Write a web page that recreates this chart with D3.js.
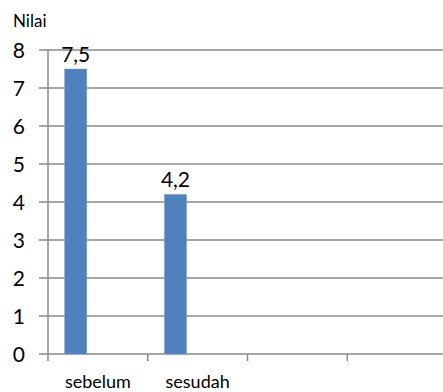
<!DOCTYPE html>
<html>
<head>
<meta charset="utf-8">
<script src="https://cdn.jsdelivr.net/npm/d3@7"></script>
<style>
  body { margin: 0; background: #fff; }
  text { font-family: Lato, "Open Sans", sans-serif; fill: #000; }
</style>
</head>
<body>
<svg id="chart"></svg>
<script>
// data
const categories = ['sebelum', 'sesudah', '', ''];
const values = [7.5, 4.2, null, null];
const valueLabels = ['7,5', '4,2', '', ''];
const yTicks = [0, 1, 2, 3, 4, 5, 6, 7, 8];

const width = 443, height = 392;
const margin = { top: 50, right: -4, bottom: 38, left: 48 };
const innerW = width - margin.left - margin.right;
const innerH = height - margin.top - margin.bottom;

const svg = d3.select('#chart')
    .attr('width', width)
    .attr('height', height);

const chart = svg.append('g')
    .attr('transform', `translate(${margin.left},${margin.top})`);

const xScale = d3.scaleBand()
    .domain(d3.range(categories.length))
    .range([0, innerW]);

const yScale = d3.scaleLinear()
    .domain([0, 8])
    .range([innerH, 0]);

// gridlines
chart.append('g')
    .selectAll('line')
    .data(yTicks)
    .join('line')
    .attr('x1', -9)
    .attr('x2', innerW)
    .attr('y1', d => yScale(d))
    .attr('y2', d => yScale(d))
    .attr('stroke', '#8a8a8a')
    .attr('stroke-width', 1.5);

// y axis line
chart.append('line')
    .attr('x1', 0).attr('x2', 0)
    .attr('y1', 0).attr('y2', innerH)
    .attr('stroke', '#8a8a8a')
    .attr('stroke-width', 1.5);

// category ticks
chart.append('g')
    .selectAll('line')
    .data(d3.range(categories.length))
    .join('line')
    .attr('x1', d => xScale(d))
    .attr('x2', d => xScale(d))
    .attr('y1', innerH)
    .attr('y2', innerH + 7)
    .attr('stroke', '#8a8a8a')
    .attr('stroke-width', 1.5);

// y tick labels
chart.append('g')
    .selectAll('text')
    .data(yTicks)
    .join('text')
    .attr('x', -23)
    .attr('y', d => yScale(d))
    .attr('dy', '0.36em')
    .attr('text-anchor', 'end')
    .style('font-size', '21px')
    .text(d => d);

// bars sit in the first of three slots (Excel style, gap 150%)
const slot = xScale.bandwidth() / 4.5;
const barX = i => xScale(i) + slot * 0.75;

const data = values.map((v, i) => ({ i, v, label: valueLabels[i] })).filter(d => d.v != null);

chart.selectAll('rect.bar')
    .data(data)
    .join('rect')
    .attr('class', 'bar')
    .attr('x', d => barX(d.i))
    .attr('y', d => yScale(d.v))
    .attr('width', slot)
    .attr('height', d => innerH - yScale(d.v))
    .attr('fill', '#4f81bd')
    .attr('stroke', '#7ea1cf')
    .attr('stroke-width', 0.5);

chart.selectAll('text.val')
    .data(data)
    .join('text')
    .attr('class', 'val')
    .attr('x', d => barX(d.i) + slot / 2)
    .attr('y', d => yScale(d.v) - 7)
    .attr('text-anchor', 'middle')
    .style('font-size', '21px')
    .text(d => d.label);

// category labels
chart.append('g')
    .selectAll('text')
    .data(categories)
    .join('text')
    .attr('x', (d, i) => xScale(i) + xScale.bandwidth() / 2)
    .attr('y', innerH + 34)
    .attr('text-anchor', 'middle')
    .style('font-size', '18px')
    .text(d => d);

// axis title
svg.append('text')
    .attr('x', 13)
    .attr('y', 27)
    .style('font-size', '17px')
    .text('Nilai');
</script>
</body>
</html>
